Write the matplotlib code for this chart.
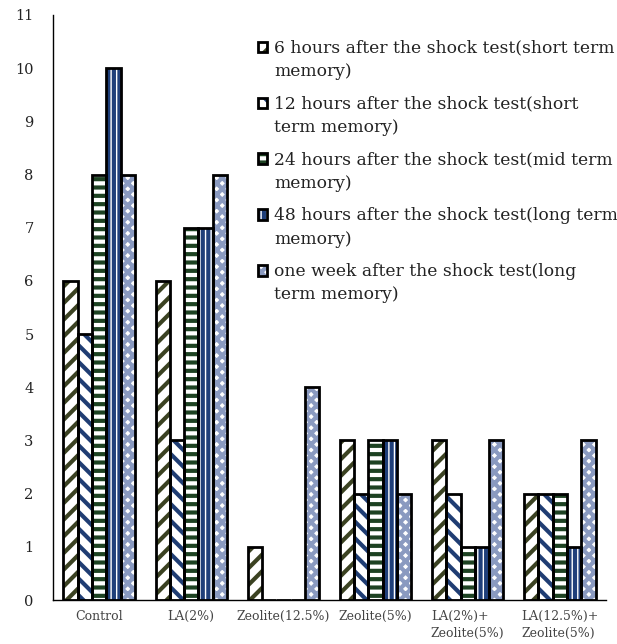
import matplotlib
matplotlib.use("Agg")
import matplotlib.pyplot as plt
import numpy as np
from matplotlib.patches import Patch
from matplotlib.legend_handler import HandlerTuple

categories = ["Control", "LA(2%)", "Zeolite(12.5%)", "Zeolite(5%)",
              "LA(2%)+\nZeolite(5%)", "LA(12.5%)+\nZeolite(5%)"]
series_names = [
    "6 hours after the shock test(short term\nmemory)",
    "12 hours after the shock test(short\nterm memory)",
    "24 hours after the shock test(mid term\nmemory)",
    "48 hours after the shock test(long term\nmemory)",
    "one week after the shock test(long\nterm memory)",
]
h6 = [6, 6, 1, 3, 3, 2]
h12 = [5, 3, 0, 2, 2, 2]
h24 = [8, 7, 0, 3, 1, 2]
h48 = [10, 7, 0, 3, 1, 1]
week = [8, 8, 4, 2, 3, 3]
values = [h6, h12, h24, h48, week]
y_ticks = list(range(0, 12))

hatches = ['//', '\\\\', '--', '|||', 'xxx']
hatch_colors = ['#3b4222', '#1f3d73', '#1d4222', '#1f3f7a', '#8a9ac0']

plt.rcParams['font.family'] = ['DejaVu Serif']
plt.rcParams['hatch.linewidth'] = 3.0


class ShiftedTuple(HandlerTuple):
    def __init__(self, shift=0, **kw):
        super().__init__(**kw)
        self.shift = shift

    def create_artists(self, legend, orig_handle, xdescent, ydescent,
                       width, height, fontsize, trans):
        return super().create_artists(legend, orig_handle, xdescent,
                                      ydescent - self.shift, width, height,
                                      fontsize, trans)


fig = plt.figure(figsize=(6.17, 6.44), dpi=100)
ax = fig.add_axes([53/617, 44/644, (606-53)/617, (600-15)/644])

x = np.arange(len(categories))
bw = 0.155
handles = []
for i, (vals, h, hc) in enumerate(zip(values, hatches, hatch_colors)):
    pos = x + (i - 2) * bw
    ax.bar(pos, vals, bw, color='white', edgecolor=hc, hatch=h, linewidth=0, zorder=2)
    ax.bar(pos, vals, bw, fill=False, edgecolor='black', linewidth=2, zorder=3)
    p1 = Patch(facecolor='white', edgecolor=hc, hatch=h, linewidth=0)
    p2 = Patch(fill=False, edgecolor='black', linewidth=2)
    handles.append((p1, p2))

ax.set_xlim(-0.5, len(categories) - 0.5)
ax.set_ylim(0, 11)
ax.set_yticks(y_ticks)
ax.set_yticklabels([str(t) for t in y_ticks], fontsize=10.5, color='#222222')
ax.set_xticks(x)
ax.set_xticklabels(categories, fontsize=9, color='#444444', multialignment='left',
                   linespacing=1.45)
ax.tick_params(axis='both', length=0)
ax.tick_params(axis='y', pad=14)
ax.tick_params(axis='x', pad=7)
for s in ['top', 'right']:
    ax.spines[s].set_visible(False)
ax.spines['left'].set_linewidth(1.0)
ax.spines['bottom'].set_linewidth(1.0)

leg = ax.legend(handles, series_names,
                handler_map={tuple: ShiftedTuple(shift=9.5, ndivide=1)},
                loc='upper left', bbox_to_anchor=(0.358, 0.970), frameon=False,
                fontsize=12.3, handlelength=0.55, handleheight=0.55, handletextpad=0.4,
                labelspacing=0.9, borderaxespad=0)
for t in leg.get_texts():
    t.set_linespacing(1.5)
    t.set_color('#222222')

fig.savefig("out.png", dpi=100)
